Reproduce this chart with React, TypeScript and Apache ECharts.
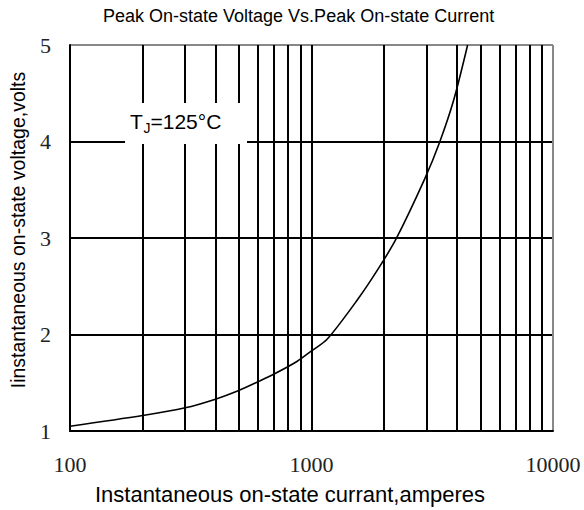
import React, { useEffect, useRef } from "react";
import * as echarts from "echarts";

const titleText = "Peak On-state Voltage Vs.Peak On-state Current";
const xName = "Instantaneous on-state currant,amperes";
const yName = "Iinstantaneous on-state voltage,volts";

// Peak on-state current (A) and voltage (V)
const currents = [100, 200, 300, 400, 500, 600, 700, 870, 1000, 1160, 1560, 1900, 2240, 2940, 3390, 3880, 4430];
const voltages = [1.05, 1.16, 1.24, 1.33, 1.42, 1.51, 1.59, 1.72, 1.83, 1.95, 2.37, 2.69, 2.99, 3.61, 3.99, 4.43, 5.0];

// minor vertical grid lines of the log axis
const minorGridCurrents = [200, 300, 400, 500, 600, 700, 800, 900, 2000, 3000, 4000, 5000, 6000, 7000, 8000, 9000];

const SANS = "'Liberation Sans', Arial, sans-serif";
const SERIF = "'Liberation Serif', 'Times New Roman', serif";

export default function App() {
  const ref = useRef<HTMLDivElement>(null);

  useEffect(() => {
    document.body.style.margin = "0";
    const chart = echarts.init(ref.current!, null, { renderer: "svg" });
    const data = currents.map((c, i) => [c, voltages[i]]);
    chart.setOption({
      animation: false,
      backgroundColor: "#ffffff",
      title: {
        text: titleText,
        left: 98,
        top: 2,
        textStyle: { fontFamily: SANS, fontSize: 18, fontWeight: "normal", color: "#000" },
      },
      grid: { left: 70, right: 31, top: 45, bottom: 77, containLabel: false },
      xAxis: {
        type: "log",
        logBase: 10,
        min: 100,
        max: 10000,
        name: xName,
        nameLocation: "middle",
        nameGap: 52,
        nameTextStyle: { fontFamily: SANS, fontSize: 22, color: "#000", padding: [0, 43, 0, 0] },
        axisLine: { show: true, lineStyle: { color: "#000", width: 2 } },
        axisTick: { show: false },
        axisLabel: {
          fontFamily: SERIF,
          fontSize: 22,
          color: "#222",
          margin: 22,
          formatter: (v: number) => String(Math.round(v)),
        },
        splitLine: { show: true, lineStyle: { color: ["#000", "#000", "#888"], width: 2 } },
        minorSplitLine: { show: false },
      },
      yAxis: {
        type: "value",
        min: 1,
        max: 5,
        interval: 1,
        name: yName,
        nameLocation: "middle",
        nameGap: 42,
        nameTextStyle: { fontFamily: SANS, fontSize: 19.5, color: "#000", padding: [0, 0, 0, 16] },
        axisLine: { show: true, lineStyle: { color: "#000", width: 2 } },
        axisTick: { show: false },
        axisLabel: { fontFamily: SERIF, fontSize: 22, color: "#222", margin: 19 },
        splitLine: { show: true, lineStyle: { color: ["#000", "#000", "#000", "#000", "#888"], width: 2 } },
      },
      series: [
        {
          type: "line",
          data,
          smooth: 0.3,
          symbol: "none",
          lineStyle: { color: "#000", width: 1.6 },
          z: 5,
          markLine: {
            silent: true,
            symbol: "none",
            label: { show: false },
            lineStyle: { color: "#000", width: 2, type: "solid" },
            data: minorGridCurrents.map((c) => ({ xAxis: c })),
            z: 3,
          },
        },
      ],
      graphic: [
        {
          type: "rect",
          z: 100,
          shape: { x: 125, y: 103, width: 122, height: 41 },
          style: { fill: "#ffffff" },
        },
        {
          type: "text",
          z: 101,
          x: 130,
          y: 121,
          style: { text: "T", font: `21px ${SANS}`, fill: "#000", align: "left", verticalAlign: "middle" },
        },
        {
          type: "text",
          z: 101,
          x: 143.5,
          y: 128.4,
          style: { text: "J", font: `14px ${SANS}`, fill: "#000", align: "left", verticalAlign: "middle" },
        },
        {
          type: "text",
          z: 101,
          x: 150.5,
          y: 121,
          style: { text: "=125°C", font: `21px ${SANS}`, fill: "#000", align: "left", verticalAlign: "middle" },
        },
      ],
    });
    return () => chart.dispose();
  }, []);

  return (
    <div
      ref={ref}
      style={{ position: "absolute", left: 0, top: 0, width: 584, height: 510 }}
    />
  );
}
